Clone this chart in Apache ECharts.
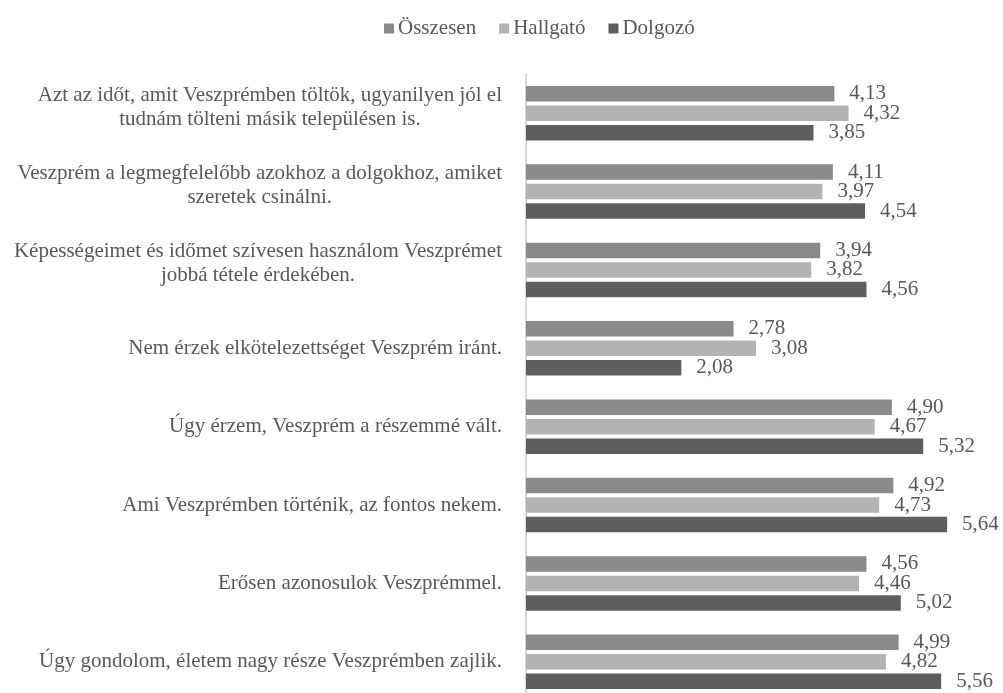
<!DOCTYPE html>
<html>
<head>
<meta charset="utf-8">
<script src="https://cdn.jsdelivr.net/npm/echarts@6/dist/echarts.min.js"></script>
<style>
html,body{margin:0;padding:0;background:#fff;}
#chart{width:1003px;height:693px;}
</style>
</head>
<body>
<div id="chart"></div>
<script>
const categories = [
  "Azt az időt, amit Veszprémben töltök, ugyanilyen jól el\ntudnám tölteni másik településen is.",
  "Veszprém a legmegfelelőbb azokhoz a dolgokhoz, amiket\nszeretek csinálni.",
  "Képességeimet és időmet szívesen használom Veszprémet\njobbá tétele érdekében.",
  "Nem érzek elkötelezettséget Veszprém iránt.",
  "Úgy érzem, Veszprém a részemmé vált.",
  "Ami Veszprémben történik, az fontos nekem.",
  "Erősen azonosulok Veszprémmel.",
  "Úgy gondolom, életem nagy része Veszprémben zajlik."
];
const seriesNames = ["Összesen", "Hallgató", "Dolgozó"];
const osszesen = [4.13, 4.11, 3.94, 2.78, 4.90, 4.92, 4.56, 4.99];
const hallgato = [4.32, 3.97, 3.82, 3.08, 4.67, 4.73, 4.46, 4.82];
const dolgozo  = [3.85, 4.54, 4.56, 2.08, 5.32, 5.64, 5.02, 5.56];
const colors = ["#8a8a8a", "#b3b3b3", "#5e5e5e"];

const FONT = "'Liberation Serif', 'Times New Roman', serif";
const TXT = "#595959";
const FS = 21;

function mkSeries(name, data, color) {
  return {
    name: name,
    type: 'bar',
    data: data,
    barWidth: 15.6,
    barGap: '25%',
    itemStyle: { color: color },
    label: {
      show: true,
      position: 'right',
      distance: 15,
      color: TXT,
      fontFamily: FONT,
      fontSize: FS,
      formatter: p => p.value.toFixed(2).replace('.', ',')
    }
  };
}

const catData = categories.map(c => {
  const multi = c.indexOf('\n') >= 0;
  return multi ? { value: c, textStyle: { padding: [0, 0, 12, 0] } } : { value: c };
});

const chart = echarts.init(document.getElementById('chart'), null, { renderer: 'canvas' });
chart.setOption({
  animation: false,
  backgroundColor: '#fff',
  legend: {
    top: 13,
    left: 379,
    itemWidth: 10,
    itemHeight: 10,
    itemGap: 23,
    icon: 'rect',
    textStyle: { color: TXT, fontFamily: FONT, fontSize: FS, padding: [0, 0, 0, -1] },
    data: seriesNames
  },
  grid: { left: 526, top: 74, width: 448, height: 627, containLabel: false, outerBoundsMode: 'none' },
  xAxis: {
    type: 'value',
    min: 0,
    max: 6,
    show: false
  },
  yAxis: {
    type: 'category',
    inverse: true,
    data: catData,
    axisLine: { show: true, lineStyle: { color: '#d9d9d9', width: 2 } },
    axisTick: { show: false },
    axisLabel: {
      margin: 24,
      color: TXT,
      fontFamily: FONT,
      fontSize: FS,
      lineHeight: 24,
      formatter: v => v.split('\n').map(l => '{c|' + l + '}').join('\n'),
      rich: {
        c: { align: 'center', color: TXT, fontFamily: FONT, fontSize: FS, lineHeight: 24 }
      }
    }
  },
  series: [
    mkSeries(seriesNames[0], osszesen, colors[0]),
    mkSeries(seriesNames[1], hallgato, colors[1]),
    mkSeries(seriesNames[2], dolgozo, colors[2])
  ]
});
</script>
</body>
</html>
